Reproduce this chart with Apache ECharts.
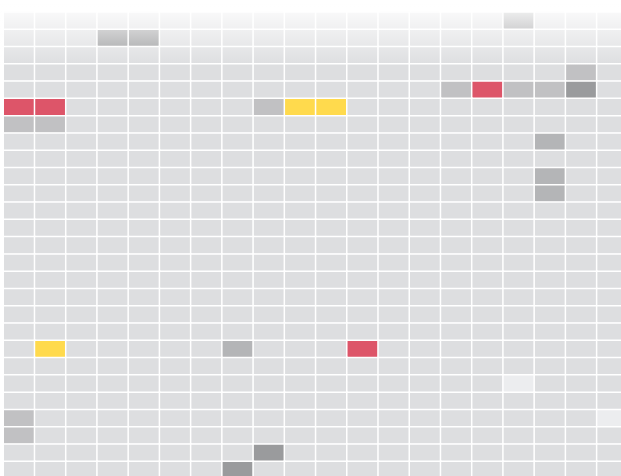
<!DOCTYPE html>
<html>
<head>
<meta charset="utf-8">
<script src="https://cdn.jsdelivr.net/npm/echarts@6/dist/echarts.min.js"></script>
<style>
html, body { margin: 0; padding: 0; background: #fff; }
#main { width: 621px; height: 476px; }
</style>
</head>
<body>
<div id="main"></div>
<script>
var chart = echarts.init(document.getElementById('main'));

// columns and rows of the grid
var cols = ['c0','c1','c2','c3','c4','c5','c6','c7','c8','c9','c10','c11','c12','c13','c14','c15','c16','c17','c18','c19'];
var rows = ['r0','r1','r2','r3','r4','r5','r6','r7','r8','r9','r10','r11','r12','r13','r14','r15','r16','r17','r18','r19','r20','r21','r22','r23','r24','r25','r26'];

// level of every cell, one string per row, one digit per column
var levels = [
    '00000000000000004000',
    '00044000000000000000',
    '00000000000000000000',
    '00000000000000000020',
    '00000000000000262240',
    '66000000255000000000',
    '22000000000000000000',
    '00000000000000000300',
    '00000000000000000000',
    '00000000000000000300',
    '00000000000000000300',
    '00000000000000000000',
    '00000000000000000000',
    '00000000000000000000',
    '00000000000000000000',
    '00000000000000000000',
    '00000000000000000000',
    '00000000000000000000',
    '00000000000000000000',
    '05000003000600000000',
    '00000000000000000000',
    '00000000000000001000',
    '00000000000000000000',
    '20000000000000000001',
    '20000000000000000000',
    '00000000400000000000',
    '00000004000000000000'
];

// colour of each level
var levelColors = ['#dddee0', '#ecedef', '#c1c1c3', '#b4b5b7', '#9a9b9d', '#ffda4d', '#dd5569'];

var data = [];
levels.forEach(function (line, r) {
    for (var c = 0; c < line.length; c++) {
        data.push([c, r, +line[c]]);
    }
});

var pieces = levelColors.map(function (col, i) {
    return { value: i, color: col };
});

option = {
    animation: false,
    grid: {
        left: 3.5,
        top: 12.2,
        width: 624.6,
        height: 466.6,
        outerBoundsMode: 'none',
        containLabel: false
    },
    xAxis: {
        type: 'category',
        data: cols,
        show: false
    },
    yAxis: {
        type: 'category',
        data: rows,
        inverse: true,
        show: false
    },
    visualMap: {
        type: 'piecewise',
        show: false,
        dimension: 2,
        pieces: pieces
    },
    graphic: [{
        type: 'rect',
        z: 100,
        silent: true,
        shape: { x: 0, y: 0, width: 621, height: 66 },
        style: {
            fill: new echarts.graphic.LinearGradient(0, 0, 0, 1, [
                { offset: 0, color: 'rgba(255,255,255,1)' },
                { offset: 1, color: 'rgba(255,255,255,0)' }
            ])
        }
    }],
    series: [{
        type: 'heatmap',
        data: data,
        itemStyle: {
            borderColor: '#fff',
            borderWidth: 1.5
        },
        emphasis: { disabled: true }
    }]
};

chart.setOption(option);
window.addEventListener('resize', chart.resize);
</script>
</body>
</html>
